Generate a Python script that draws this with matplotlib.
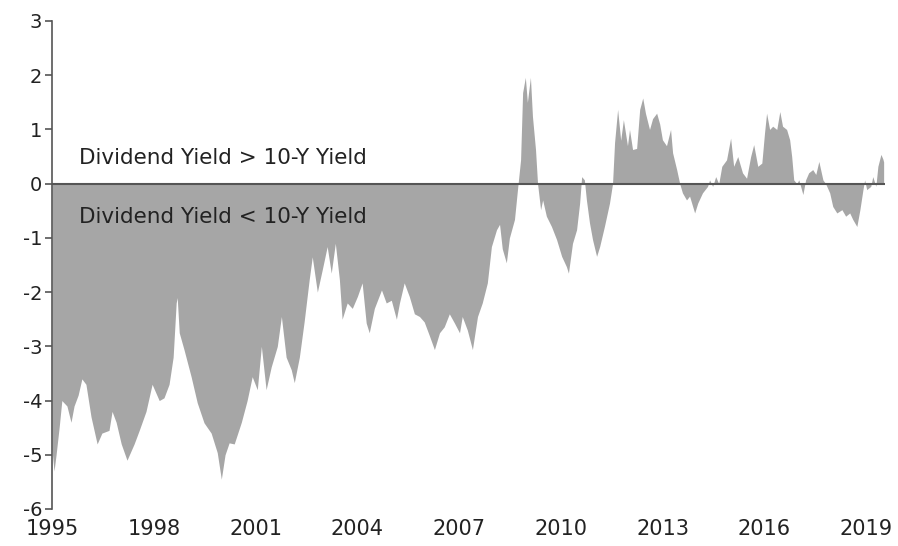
import matplotlib
matplotlib.use('Agg')
from matplotlib import pyplot as plt
import numpy as np

# dividend yield minus 10-year yield
dates = [1995.00, 1995.06, 1995.12, 1995.21, 1995.29, 1995.44, 1995.56, 1995.65, 1995.77, 1995.88,
         1996.00, 1996.15, 1996.33, 1996.47, 1996.68, 1996.77, 1996.89, 1997.04, 1997.21, 1997.42,
         1997.57, 1997.77, 1997.95, 1998.16, 1998.30, 1998.45, 1998.57, 1998.66, 1998.69, 1998.75,
         1998.89, 1999.10, 1999.28, 1999.48, 1999.69, 1999.87, 1999.99, 2000.10, 2000.22, 2000.37,
         2000.58, 2000.75, 2000.90, 2001.05, 2001.17, 2001.31, 2001.46, 2001.64, 2001.76, 2001.90,
         2002.05, 2002.14, 2002.29, 2002.43, 2002.58, 2002.67, 2002.82, 2002.96, 2003.11, 2003.23,
         2003.35, 2003.47, 2003.55, 2003.70, 2003.85, 2004.00, 2004.14, 2004.26, 2004.35, 2004.50,
         2004.71, 2004.85, 2005.00, 2005.15, 2005.24, 2005.38, 2005.53, 2005.68, 2005.83, 2005.97,
         2006.12, 2006.27, 2006.42, 2006.56, 2006.71, 2006.86, 2007.01, 2007.09, 2007.24, 2007.39,
         2007.54, 2007.68, 2007.83, 2007.95, 2008.10, 2008.19, 2008.27, 2008.39, 2008.48, 2008.63,
         2008.72, 2008.81, 2008.87, 2008.95, 2009.01, 2009.10, 2009.16, 2009.25, 2009.31, 2009.40,
         2009.46, 2009.57, 2009.72, 2009.87, 2010.02, 2010.16, 2010.22, 2010.34, 2010.46, 2010.55,
         2010.61, 2010.69, 2010.75, 2010.84, 2010.93, 2011.05, 2011.14, 2011.28, 2011.43, 2011.52,
         2011.58, 2011.67, 2011.76, 2011.84, 2011.96, 2012.02, 2012.11, 2012.23, 2012.32, 2012.41,
         2012.49, 2012.61, 2012.70, 2012.82, 2012.91, 2012.99, 2013.11, 2013.23, 2013.29, 2013.41,
         2013.50, 2013.58, 2013.70, 2013.79, 2013.94, 2014.03, 2014.17, 2014.32, 2014.38, 2014.47,
         2014.56, 2014.65, 2014.74, 2014.88, 2015.00, 2015.09, 2015.21, 2015.35, 2015.47, 2015.59,
         2015.68, 2015.80, 2015.92, 2016.00, 2016.06, 2016.15, 2016.24, 2016.36, 2016.45, 2016.53,
         2016.65, 2016.74, 2016.80, 2016.86, 2016.95, 2017.01, 2017.13, 2017.21, 2017.30, 2017.42,
         2017.51, 2017.60, 2017.72, 2017.80, 2017.92, 2018.01, 2018.13, 2018.28, 2018.39, 2018.51,
         2018.60, 2018.72, 2018.81, 2018.90, 2018.95, 2019.01, 2019.13, 2019.19, 2019.28, 2019.34,
         2019.43, 2019.49, 2019.51]

spread = [-4.9, -5.3, -5.0, -4.5, -4.0, -4.1, -4.4, -4.1, -3.9, -3.6,
          -3.7, -4.3, -4.8, -4.6, -4.55, -4.2, -4.4, -4.8, -5.1, -4.8,
          -4.55, -4.2, -3.7, -4.0, -3.95, -3.7, -3.2, -2.2, -2.1, -2.75,
          -3.06, -3.56, -4.04, -4.41, -4.6, -4.96, -5.45, -5.0, -4.78, -4.8,
          -4.4, -4.0, -3.56, -3.8, -3.0, -3.8, -3.38, -3.0, -2.45, -3.2,
          -3.43, -3.67, -3.2, -2.55, -1.77, -1.35, -2.0, -1.6, -1.16, -1.65,
          -1.1, -1.77, -2.5, -2.2, -2.3, -2.08, -1.83, -2.57, -2.75, -2.3,
          -1.96, -2.2, -2.15, -2.5, -2.2, -1.83, -2.08, -2.4, -2.45, -2.55,
          -2.8, -3.06, -2.75, -2.64, -2.4, -2.57, -2.75, -2.45, -2.7, -3.06,
          -2.45, -2.2, -1.83, -1.16, -0.85, -0.75, -1.2, -1.46, -1.0, -0.66,
          -0.1, 0.44, 1.68, 1.96, 1.5, 1.96, 1.24, 0.63, 0.0, -0.48,
          -0.3, -0.6, -0.79, -1.03, -1.34, -1.53, -1.65, -1.1, -0.85, -0.36,
          0.13, 0.07, -0.3, -0.72, -1.03, -1.34, -1.16, -0.79, -0.36, 0.0,
          0.76, 1.37, 0.8, 1.18, 0.7, 1.0, 0.63, 0.65, 1.37, 1.58,
          1.3, 1.0, 1.2, 1.3, 1.1, 0.81, 0.7, 1.0, 0.57, 0.26,
          0.0, -0.17, -0.3, -0.23, -0.54, -0.36, -0.17, -0.05, 0.07, -0.05,
          0.13, 0.0, 0.32, 0.44, 0.84, 0.32, 0.5, 0.2, 0.1, 0.5,
          0.72, 0.32, 0.38, 0.94, 1.3, 1.0, 1.06, 1.0, 1.33, 1.06,
          1.0, 0.81, 0.5, 0.07, 0.0, 0.07, -0.2, 0.07, 0.2, 0.26,
          0.17, 0.41, 0.07, 0.0, -0.17, -0.42, -0.54, -0.48, -0.6, -0.54,
          -0.66, -0.79, -0.48, -0.11, 0.07, -0.11, -0.05, 0.13, -0.05, 0.32,
          0.54, 0.45, 0.4]

year_ticks = [1995, 1998, 2001, 2004, 2007, 2010, 2013, 2016, 2019]
value_ticks = [-6, -5, -4, -3, -2, -1, 0, 1, 2, 3]

plt.rcParams['font.family'] = ['DejaVu Sans']

fig = plt.figure(figsize=(8.98, 5.46), dpi=100)
ax = fig.add_axes([52 / 898, 1 - 509 / 546, (885 - 52) / 898, (509 - 21) / 546])

ax.fill_between(dates, spread, 0, color='#a6a6a6', linewidth=0)
ax.axhline(0, color='#555555', linewidth=1.5)

ax.set_xlim(1995, 2019.55)
ax.set_ylim(-6, 3)

ax.set_xticks(year_ticks)
ax.set_xticklabels([str(y) for y in year_ticks])
ax.set_yticks(value_ticks)
ax.set_yticklabels([str(v) for v in value_ticks])

for side in ['top', 'right', 'bottom']:
    ax.spines[side].set_visible(False)
ax.spines['left'].set_color('#555555')
ax.spines['left'].set_linewidth(1.2)

ax.tick_params(axis='y', length=5, width=1.2, color='#555555', labelsize=14, labelcolor='#222222', pad=2)
ax.tick_params(axis='x', length=0, labelsize=15, labelcolor='#222222', pad=7)

ax.text(1995.8, 0.48, 'Dividend Yield > 10-Y Yield', fontsize=15.5, color='#222222', va='center')
ax.text(1995.8, -0.61, 'Dividend Yield < 10-Y Yield', fontsize=15.5, color='#222222', va='center')

fig.savefig('out.png', dpi=100)
